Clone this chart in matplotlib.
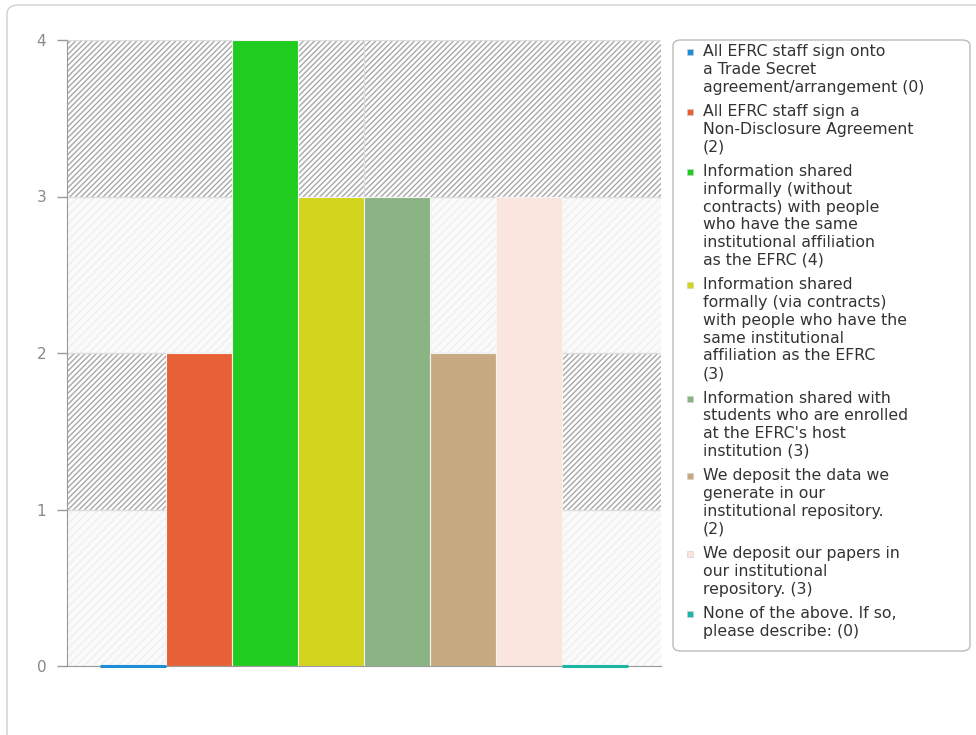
import matplotlib
matplotlib.use("Agg")
import matplotlib.pyplot as plt
from matplotlib.patches import Rectangle, FancyBboxPatch

# survey answers and counts
labels = [
    "All EFRC staff sign onto\na Trade Secret\nagreement/arrangement (0)",
    "All EFRC staff sign a\nNon-Disclosure Agreement\n(2)",
    "Information shared\ninformally (without\ncontracts) with people\nwho have the same\ninstitutional affiliation\nas the EFRC (4)",
    "Information shared\nformally (via contracts)\nwith people who have the\nsame institutional\naffiliation as the EFRC\n(3)",
    "Information shared with\nstudents who are enrolled\nat the EFRC's host\ninstitution (3)",
    "We deposit the data we\ngenerate in our\ninstitutional repository.\n(2)",
    "We deposit our papers in\nour institutional\nrepository. (3)",
    "None of the above. If so,\nplease describe: (0)",
]
values = [0, 2, 4, 3, 3, 2, 3, 0]
colors = ["#1f8dd6", "#e86035", "#21cc21", "#d2d41e",
          "#8ab483", "#c8aa82", "#fbe6df", "#1fb5a5"]
yticks = [0, 1, 2, 3, 4]

W, H = 976, 735
fig = plt.figure(figsize=(W / 100, H / 100), dpi=100)

# outer rounded frame
fig.patches.append(FancyBboxPatch((7 / W, -0.05), 1.1, 1.05 - 5 / H,
                                  boxstyle="round,pad=0,rounding_size=0.012",
                                  transform=fig.transFigure, fill=False,
                                  edgecolor="#d0d0d0", linewidth=1))

ax = fig.add_axes([67 / W, 1 - 666 / H, 594 / W, 626 / H])

# banded background: hatched on alternate bands
for lo in range(0, 4):
    if lo % 2 == 1:
        ax.axhspan(lo, lo + 1, facecolor="white", edgecolor="#a8a8a8",
                   hatch="//////", linewidth=0, zorder=0)
    else:
        ax.axhspan(lo, lo + 1, facecolor="#fafafa", edgecolor="#efefef",
                   hatch="////", linewidth=0, zorder=0)
    ax.axhline(lo + 1, color="#dddddd", linewidth=1, zorder=0.5)
ax.axvline(3.5, color="#dddddd", linewidth=1, zorder=0.5)

for i, v in enumerate(values):
    if v == 0:
        ax.bar(i, v, width=1, color=colors[i], edgecolor=colors[i],
               linewidth=2.2, zorder=4, clip_on=False)
    else:
        ax.bar(i, v, width=1, color=colors[i], edgecolor="#f4f4f4",
               linewidth=0.8, zorder=2)

ax.set_xlim(-1, 8)
ax.set_ylim(0, 4)
ax.set_xticks([])
ax.set_yticks(yticks)
ax.tick_params(axis="y", colors="#999999", labelcolor="#888888",
               labelsize=11, length=7, width=1, pad=8)
for s in ["top", "right"]:
    ax.spines[s].set_visible(False)
ax.spines["left"].set_color("#999999")
ax.spines["bottom"].set_color("#999999")
ax.spines["left"].set_zorder(3)
ax.spines["bottom"].set_zorder(3)

# legend box drawn by hand so markers sit on the first line
fig.patches.append(FancyBboxPatch((673 / W, 1 - 651 / H), 297 / W, 611 / H,
                                  boxstyle="round,pad=0,rounding_size=0.008",
                                  transform=fig.transFigure, facecolor="white",
                                  edgecolor="#bbbbbb", linewidth=1))
line_h = 17.7
gap = 7
y = 44
for lab, c in zip(labels, colors):
    fig.patches.append(Rectangle((687 / W, 1 - (y + 11) / H), 6 / W, 6 / H,
                                 transform=fig.transFigure, facecolor=c,
                                 edgecolor="#cccccc", linewidth=0.4))
    fig.text(703 / W, 1 - y / H, lab, ha="left", va="top", fontsize=11.3,
             color="#333333", linespacing=1.23)
    y += line_h * (lab.count("\n") + 1) + gap

fig.savefig("out.png", dpi=100)
